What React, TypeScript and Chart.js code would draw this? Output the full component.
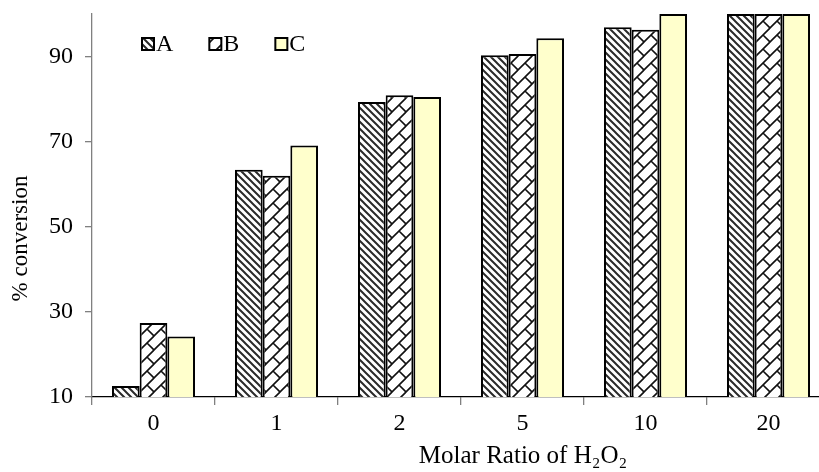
import React, { useEffect, useRef } from "react";
import { Chart, registerables } from "chart.js";

Chart.register(...registerables);

const categories = ["0", "1", "2", "5", "10", "20"];
const seriesNames = ["A", "B", "C"];
const seriesA = [12.6, 63.4, 79.3, 90.3, 96.9, 100];
const seriesB = [27.4, 62.0, 80.9, 90.6, 96.3, 100];
const seriesC = [24.2, 69.1, 80.5, 94.3, 100, 100];
const yTicks = [10, 30, 50, 70, 90];
const yMin = 10;
const yMax = 100;
const yTitle = "% conversion";
const xTitle = "Molar Ratio of H\u2082O\u2082";

const FONT = '"Liberation Serif", "Times New Roman", serif';
const FS = 24;
const CANVAS_W = 830;
const CANVAS_H = 472;

function makePatternA(): CanvasPattern | string {
  const T = 7;
  const c = document.createElement("canvas");
  c.width = T;
  c.height = T;
  const g = c.getContext("2d");
  if (!g) return "#fff";
  g.fillStyle = "#ffffff";
  g.fillRect(0, 0, T, T);
  g.strokeStyle = "#2a2a2a";
  g.lineWidth = 2;
  g.beginPath();
  for (const o of [-T, 0, T]) {
    g.moveTo(o - 1, -1);
    g.lineTo(o + T + 1, T + 1);
  }
  g.stroke();
  return g.createPattern(c, "repeat") || "#fff";
}

function makePatternB(): CanvasPattern | string {
  const T = 14;
  const c = document.createElement("canvas");
  c.width = T;
  c.height = T;
  const g = c.getContext("2d");
  if (!g) return "#fff";
  g.fillStyle = "#ffffff";
  g.fillRect(0, 0, T, T);
  g.strokeStyle = "#111";
  g.lineWidth = 1.6;
  g.beginPath();
  for (const k of [0, T, 2 * T]) {
    g.moveTo(k + 1, -1);
    g.lineTo(k - T - 1, T + 1);
  }
  g.moveTo(T / 2, T / 2);
  g.lineTo(T + 1, T + 1);
  g.moveTo(-1, -1);
  g.lineTo(0.5, 0.5);
  g.stroke();
  return g.createPattern(c, "repeat") || "#fff";
}

const insideLegend = {
  id: "insideLegend",
  afterDraw(chart: any) {
    const ctx = chart.ctx as CanvasRenderingContext2D;
    const area = chart.chartArea;
    ctx.save();
    ctx.font = `${FS}px ${FONT}`;
    ctx.textBaseline = "middle";
    ctx.textAlign = "left";
    let x = area.left + 50;
    const y = area.top + 30;
    const box = 12;
    chart.data.datasets.forEach((ds: any) => {
      ctx.fillStyle = ds.backgroundColor;
      ctx.fillRect(x, y - box / 2, box, box);
      ctx.strokeStyle = "#000";
      ctx.lineWidth = 2;
      ctx.strokeRect(x, y - box / 2, box, box);
      ctx.fillStyle = "#000";
      ctx.fillText(ds.label, x + box + 2, y + 1);
      x += box + 2 + ctx.measureText(ds.label).width + 36;
    });
    ctx.restore();
  },
};

const axisTitles = {
  id: "axisTitles",
  afterDraw(chart: any) {
    const ctx = chart.ctx as CanvasRenderingContext2D;
    const area = chart.chartArea;
    ctx.save();
    ctx.textBaseline = "middle";
    ctx.textAlign = "center";
    ctx.fillStyle = "#000";
    ctx.font = `25px ${FONT}`;
    ctx.fillText(xTitle, (area.left + area.right) / 2 + 62, chart.height - 16);
    ctx.font = `23px ${FONT}`;
    ctx.translate(21, (area.top + area.bottom) / 2 + 33);
    ctx.rotate(-Math.PI / 2);
    ctx.fillText(yTitle, 0, 0);
    ctx.restore();
  },
};

export default function App() {
  const ref = useRef<HTMLCanvasElement | null>(null);

  useEffect(() => {
    const canvas = ref.current;
    if (!canvas) return;
    const pA = makePatternA();
    const pB = makePatternB();
    const fills = [pA, pB, "#FFFFCC"];
    const values = [seriesA, seriesB, seriesC];

    const chart = new Chart(canvas, {
      type: "bar",
      data: {
        labels: categories,
        datasets: seriesNames.map((name, i) => ({
          label: name,
          data: values[i],
          backgroundColor: fills[i] as any,
          borderColor: "#000",
          borderWidth: 2,
          categoryPercentage: 0.675,
          barPercentage: 1.0,
        })),
      },
      options: {
        responsive: false,
        animation: false,
        devicePixelRatio: window.devicePixelRatio || 1,
        layout: { padding: { top: 14, right: 0, left: 0, bottom: 0 } },
        plugins: {
          legend: { display: false },
          tooltip: { enabled: false },
          title: { display: false },
        },
        scales: {
          x: {
            type: "category",
            offset: true,
            grid: {
              offset: true,
              drawOnChartArea: false,
              drawTicks: true,
              tickLength: 8,
              color: "#808080",
              lineWidth: 1.3,
            },
            border: { display: true, color: "#000", width: 1.3 },
            ticks: {
              font: { family: FONT, size: FS },
              color: "#000",
              padding: 4,
              maxRotation: 0,
            },
            afterFit: (s: any) => {
              s.height = 75;
              s.paddingLeft = 0;
              s.paddingRight = 0;
            },
          },
          y: {
            type: "linear",
            min: yMin,
            max: yMax,
            afterBuildTicks: (axis: any) => {
              axis.ticks = yTicks.map((v) => ({ value: v }));
            },
            grid: {
              drawOnChartArea: false,
              drawTicks: true,
              tickLength: 7,
              color: "#808080",
              lineWidth: 1.3,
            },
            border: { display: true, color: "#808080", width: 1.3 },
            ticks: {
              font: { family: FONT, size: FS },
              color: "#000",
              padding: 12,
            },
            afterFit: (s: any) => {
              s.width = 92;
              s.paddingTop = 0;
              s.paddingBottom = 0;
            },
          },
        },
      },
      plugins: [insideLegend, axisTitles],
    });

    return () => chart.destroy();
  }, []);

  return (
    <div
      style={{
        position: "fixed",
        left: 0,
        top: 0,
        width: 819,
        height: CANVAS_H,
        overflow: "hidden",
        background: "#fff",
      }}
    >
      <canvas
        ref={ref}
        width={CANVAS_W}
        height={CANVAS_H}
        style={{ width: CANVAS_W, height: CANVAS_H, display: "block" }}
      />
    </div>
  );
}
